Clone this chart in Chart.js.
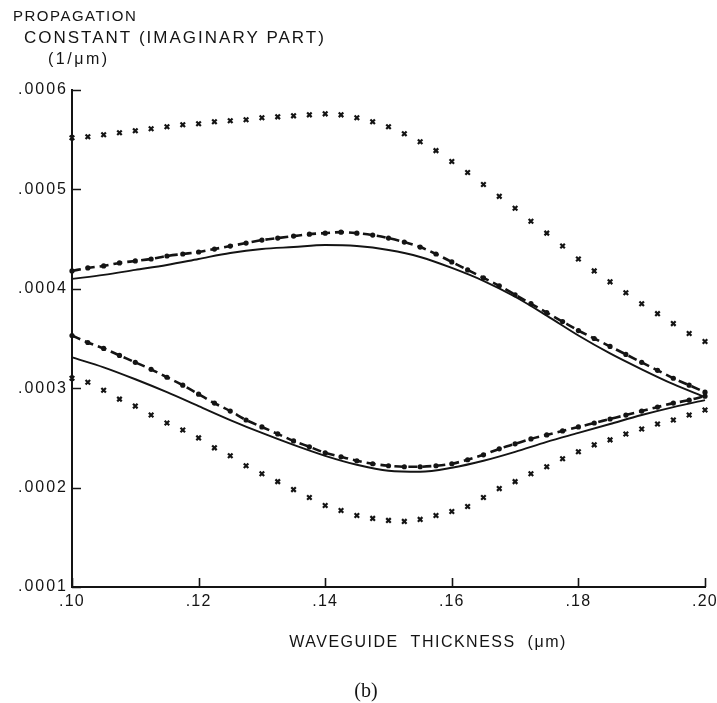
<!DOCTYPE html>
<html>
<head>
<meta charset="utf-8">
<script src="https://cdn.jsdelivr.net/npm/chart.js@4.4.1/dist/chart.umd.min.js"></script>
<style>
    html, body { margin: 0; padding: 0; background: #fff; }
    #box { width: 717px; height: 703px; }
</style>
</head>
<body>
<div id="box"><canvas id="grafico" width="717" height="703"></canvas></div>
<script>
// espessura do guia (um) - passo fino para os marcadores, passo grosso para as curvas
const espFina = [
    0.1000, 0.1025, 0.1050, 0.1075, 0.1100, 0.1125, 0.1150, 0.1175, 0.1200, 0.1225,
    0.1250, 0.1275, 0.1300, 0.1325, 0.1350, 0.1375, 0.1400, 0.1425, 0.1450, 0.1475,
    0.1500, 0.1525, 0.1550, 0.1575, 0.1600, 0.1625, 0.1650, 0.1675, 0.1700, 0.1725,
    0.1750, 0.1775, 0.1800, 0.1825, 0.1850, 0.1875, 0.1900, 0.1925, 0.1950, 0.1975, 0.2000
];
const espGrossa = [
    0.100, 0.105, 0.110, 0.115, 0.120, 0.125, 0.130, 0.135, 0.140, 0.145,
    0.150, 0.155, 0.160, 0.165, 0.170, 0.175, 0.180, 0.185, 0.190, 0.195, 0.200
];

// serie "x" de cima
const xSuperior = [
    0.000552, 0.000553, 0.000555, 0.000557, 0.000559, 0.000561, 0.000563, 0.000565, 0.000566, 0.000568,
    0.000569, 0.000570, 0.000572, 0.000573, 0.000574, 0.000575, 0.000576, 0.000575, 0.000572, 0.000568,
    0.000563, 0.000556, 0.000548, 0.000539, 0.000528, 0.000517, 0.000505, 0.000493, 0.000481, 0.000468,
    0.000456, 0.000443, 0.000430, 0.000418, 0.000407, 0.000396, 0.000385, 0.000375, 0.000365, 0.000355, 0.000347
];
// tracejada com pontos, ramo de cima
const tracoSuperior = [
    0.000418, 0.000421, 0.000423, 0.000426, 0.000428, 0.000430, 0.000433, 0.000435, 0.000437, 0.000440,
    0.000443, 0.000446, 0.000449, 0.000451, 0.000453, 0.000455, 0.000456, 0.000457, 0.000456, 0.000454,
    0.000451, 0.000447, 0.000442, 0.000435, 0.000427, 0.000419, 0.000411, 0.000403, 0.000394, 0.000385,
    0.000376, 0.000367, 0.000358, 0.000350, 0.000342, 0.000334, 0.000326, 0.000318, 0.000310, 0.000303, 0.000296
];
// solida, ramo de cima
const solidaSuperior = [
    0.000410, 0.000414, 0.000419, 0.000424, 0.000430, 0.000436, 0.000440, 0.000442, 0.000444, 0.000443,
    0.000439, 0.000432, 0.000421, 0.000408, 0.000392, 0.000373, 0.000353, 0.000335, 0.000319, 0.000304, 0.000291
];
// tracejada com pontos, ramo de baixo
const tracoInferior = [
    0.000353, 0.000346, 0.000340, 0.000333, 0.000326, 0.000319, 0.000311, 0.000303, 0.000294, 0.000285,
    0.000277, 0.000268, 0.000261, 0.000254, 0.000247, 0.000241, 0.000235, 0.000231, 0.000227, 0.000224,
    0.000222, 0.000221, 0.000221, 0.000222, 0.000224, 0.000228, 0.000233, 0.000239, 0.000244, 0.000249,
    0.000253, 0.000257, 0.000261, 0.000265, 0.000269, 0.000273, 0.000277, 0.000281, 0.000285, 0.000288, 0.000292
];
// solida, ramo de baixo
const solidaInferior = [
    0.000331, 0.000321, 0.000309, 0.000296, 0.000282, 0.000268, 0.000255, 0.000243, 0.000232, 0.000223,
    0.000217, 0.000216, 0.000220, 0.000227, 0.000236, 0.000246, 0.000255, 0.000264, 0.000273, 0.000281, 0.000288
];
// serie "x" de baixo
const xInferior = [
    0.000310, 0.000306, 0.000298, 0.000289, 0.000282, 0.000273, 0.000265, 0.000258, 0.000250, 0.000240,
    0.000232, 0.000222, 0.000214, 0.000206, 0.000198, 0.000190, 0.000182, 0.000177, 0.000172, 0.000169,
    0.000167, 0.000166, 0.000168, 0.000172, 0.000176, 0.000181, 0.000190, 0.000199, 0.000206, 0.000214,
    0.000221, 0.000229, 0.000236, 0.000243, 0.000248, 0.000254, 0.000259, 0.000264, 0.000268, 0.000273, 0.000278
];

const ticksX = [0.10, 0.12, 0.14, 0.16, 0.18, 0.20];
const ticksY = [0.0001, 0.0002, 0.0003, 0.0004, 0.0005, 0.0006];

const TINTA = '#141414';
const FONTE = '"Liberation Sans", Arial, sans-serif';

function pares(xs, ys) {
    const lista = [];
    xs.forEach((x, i) => {
        if (ys[i] !== null) {
            lista.push({ x: x, y: ys[i] });
        }
    });
    return lista;
}

function serieX(dados) {
    return {
        data: dados,
        showLine: false,
        pointStyle: 'crossRot',
        pointRadius: 3.2,
        pointBorderWidth: 2.2,
        pointBorderColor: TINTA,
        borderColor: TINTA
    };
}

function serieTraco(dados) {
    return {
        data: dados,
        borderColor: TINTA,
        borderWidth: 2.6,
        borderDash: [9, 5],
        cubicInterpolationMode: 'monotone',
        pointStyle: 'circle',
        pointRadius: 2.6,
        pointBackgroundColor: TINTA,
        pointBorderColor: TINTA,
        pointBorderWidth: 0
    };
}

function serieSolida(dados) {
    return {
        data: dados,
        borderColor: TINTA,
        borderWidth: 1.9,
        cubicInterpolationMode: 'monotone',
        pointRadius: 0
    };
}

function rotulo(v, casas) {
    return v.toFixed(casas).replace(/^0\./, '.');
}

// textos, rotulos e marcas de escala (para dentro) desenhados a mao
const extras = {
    id: 'extras',
    afterDraw(chart) {
        const ctx = chart.ctx;
        const sx = chart.scales.x;
        const sy = chart.scales.y;
        ctx.save();
        ctx.strokeStyle = TINTA;
        ctx.lineWidth = 1.6;
        ctx.beginPath();
        for (const v of ticksY) {
            const py = Math.round(sy.getPixelForValue(v)) + 0.5;
            ctx.moveTo(sx.left, py);
            ctx.lineTo(sx.left + 9, py);
        }
        for (const v of ticksX) {
            const px = Math.round(sx.getPixelForValue(v)) + 0.5;
            ctx.moveTo(px, sy.bottom);
            ctx.lineTo(px, sy.bottom - 9);
        }
        ctx.stroke();

        ctx.fillStyle = TINTA;
        ctx.textBaseline = 'middle';

        // rotulos dos eixos
        ctx.font = '16px ' + FONTE;
        ctx.letterSpacing = '2px';
        ctx.textAlign = 'right';
        for (const v of ticksY) {
            ctx.fillText(rotulo(v, 4), sx.left - 4, sy.getPixelForValue(v));
        }
        ctx.letterSpacing = '1.2px';
        ctx.textAlign = 'center';
        for (const v of ticksX) {
            ctx.fillText(rotulo(v, 2), sx.getPixelForValue(v), sy.bottom + 15);
        }

        ctx.textAlign = 'left';
        ctx.font = '15px ' + FONTE;
        ctx.letterSpacing = '1.5px';
        ctx.fillText('PROPAGATION', 13, 17);
        ctx.font = '17px ' + FONTE;
        ctx.letterSpacing = '2px';
        ctx.fillText('CONSTANT (IMAGINARY PART)', 24, 38);
        ctx.font = '16px ' + FONTE;
        ctx.letterSpacing = '2.5px';
        ctx.fillText('(1/\u03bcm)', 48, 60);

        ctx.textAlign = 'center';
        ctx.font = '16px ' + FONTE;
        ctx.letterSpacing = '1.5px';
        ctx.fillText('WAVEGUIDE  THICKNESS  (\u03bcm)', 428, 643);

        ctx.letterSpacing = '0px';
        ctx.font = '20px "Liberation Serif", "Times New Roman", serif';
        ctx.fillText('(b)', 366, 692);
        ctx.restore();
    }
};

const ctxGrafico = document.getElementById('grafico');

new Chart(ctxGrafico, {
    type: 'line',
    data: {
        datasets: [
            serieX(pares(espFina, xSuperior)),
            serieTraco(pares(espFina, tracoSuperior)),
            serieSolida(pares(espGrossa, solidaSuperior)),
            serieTraco(pares(espFina, tracoInferior)),
            serieSolida(pares(espGrossa, solidaInferior)),
            serieX(pares(espFina, xInferior))
        ]
    },
    options: {
        responsive: false,
        animation: false,
        clip: false,
        layout: {
            padding: { left: 0, right: 12, top: 90, bottom: 0 }
        },
        plugins: {
            legend: { display: false },
            tooltip: { enabled: false }
        },
        scales: {
            x: {
                type: 'linear',
                min: 0.10,
                max: 0.20,
                afterBuildTicks: (escala) => {
                    escala.ticks = ticksX.map((v) => ({ value: v }));
                },
                afterFit: (escala) => {
                    escala.height = 116;
                },
                grid: { display: false },
                border: { display: true, color: TINTA, width: 2 },
                ticks: { display: false }
            },
            y: {
                min: 0.0001,
                max: 0.0006,
                afterBuildTicks: (escala) => {
                    escala.ticks = ticksY.map((v) => ({ value: v }));
                },
                afterFit: (escala) => {
                    escala.width = 72;
                },
                grid: { display: false },
                border: { display: true, color: TINTA, width: 2 },
                ticks: { display: false }
            }
        }
    },
    plugins: [extras]
});
</script>
</body>
</html>
